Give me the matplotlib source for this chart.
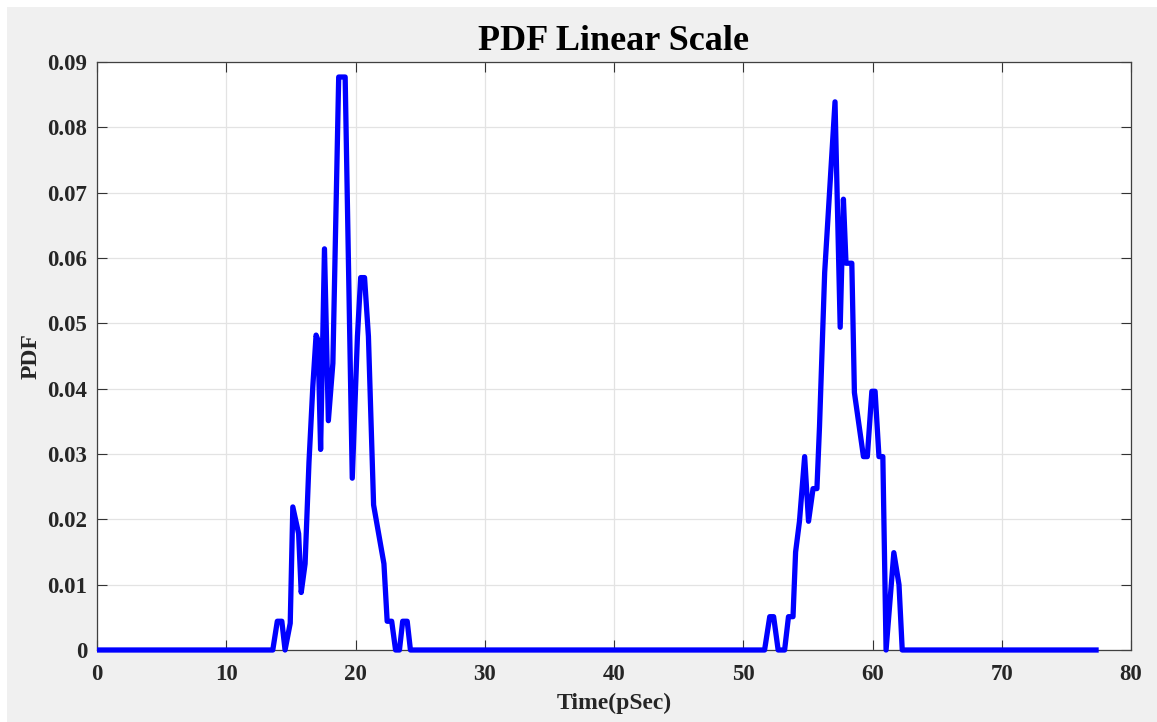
import numpy as np
import matplotlib.pyplot as plt
from matplotlib.patches import Rectangle

# values
time_ps = [0.0, 13.6, 13.95, 14.3, 14.55, 14.95, 15.15, 15.6, 15.8, 16.1,
           16.4, 16.7, 16.95, 17.1, 17.3, 17.6, 17.9, 18.25, 18.7, 19.2,
           19.75, 20.15, 20.4, 20.7, 21.0, 21.4, 22.2, 22.45, 22.8, 23.1,
           23.4, 23.65, 24.0, 24.25,
           51.65, 52.05, 52.35, 52.7, 53.2, 53.5, 53.85, 54.05, 54.35, 54.75,
           55.05, 55.4, 55.7, 55.9, 56.3, 57.1, 57.5, 57.75, 57.95, 58.4,
           58.6, 59.3, 59.6, 59.95, 60.2, 60.5, 60.8, 61.05, 61.65, 62.05,
           62.3, 77.5]
pdf = [0.0, 0.0, 0.0044, 0.0044, 0.0, 0.0041, 0.0219, 0.0178, 0.0088, 0.0132,
       0.0287, 0.0404, 0.0482, 0.0474, 0.0307, 0.0614, 0.0351, 0.0439, 0.0877, 0.0877,
       0.0263, 0.048, 0.057, 0.057, 0.048, 0.0222, 0.0132, 0.0044, 0.0044, 0.0,
       0.0, 0.0044, 0.0044, 0.0,
       0.0, 0.0051, 0.0051, 0.0, 0.0, 0.0051, 0.0051, 0.015, 0.0197, 0.0296,
       0.0197, 0.0247, 0.0247, 0.0342, 0.0578, 0.0839, 0.0494, 0.069, 0.0592, 0.0592,
       0.0394, 0.0296, 0.0296, 0.0396, 0.0396, 0.0296, 0.0296, 0.0, 0.0149, 0.01,
       0.0, 0.0]

xticks = np.arange(0, 81, 10)
yticks = np.arange(0, 0.091, 0.01)
ytick_labels = ["0"] + [f"{v:.2f}" for v in yticks[1:]]

plt.rcParams["font.family"] = ["Liberation Serif", "DejaVu Serif"]
plt.rcParams["font.weight"] = "bold"

fig = plt.figure(figsize=(11.57, 7.22), dpi=100, facecolor="white")
fig.patches.append(Rectangle((7 / 1157, 0), 1, 1 - 7 / 722, transform=fig.transFigure,
                             facecolor="#f0f0f0", edgecolor="none", zorder=-10))
ax = fig.add_axes([97 / 1157, 72 / 722, 1034 / 1157, 588 / 722])
ax.set_facecolor("white")

ax.plot(time_ps, pdf, color="#0000ff", linewidth=3.8,
        solid_joinstyle="round", solid_capstyle="butt", clip_on=False, zorder=3)

ax.set_xlim(0, 80)
ax.set_ylim(0, 0.09)
ax.set_xticks(xticks)
ax.set_yticks(yticks)
ax.set_yticklabels(ytick_labels)
ax.grid(True, color="#e3e3e3", linewidth=0.9)
ax.set_axisbelow(True)

ax.tick_params(direction="in", length=7, width=0.8, color="#333333",
               top=True, right=True, labelsize=16.5, pad=7)
ax.tick_params(axis="x", pad=10)
for lab in ax.get_xticklabels() + ax.get_yticklabels():
    lab.set_fontweight("bold")
    lab.set_color("#262626")
for s in ax.spines.values():
    s.set_color("#404040")
    s.set_linewidth(0.9)

ax.set_title("PDF Linear Scale", fontsize=26, fontweight="bold", pad=9)
ax.set_xlabel("Time(pSec)", fontsize=17, fontweight="bold", color="#262626", labelpad=6)
ax.set_ylabel("PDF", fontsize=17, fontweight="bold", color="#262626", labelpad=4)

fig.savefig("out.png", dpi=100)
